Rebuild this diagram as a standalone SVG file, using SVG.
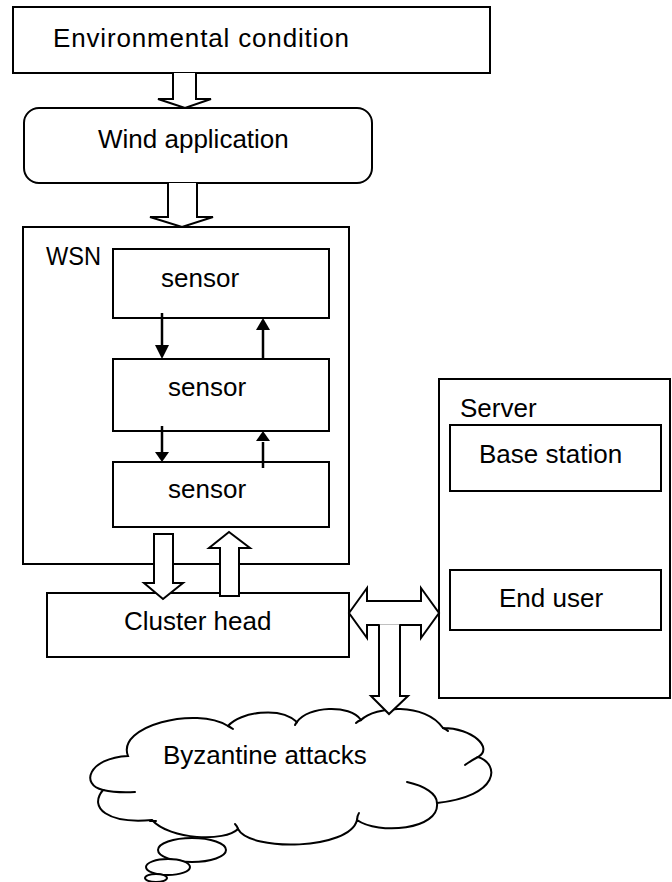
<svg xmlns="http://www.w3.org/2000/svg" width="672" height="882" viewBox="0 0 672 882">
  <style>
    .box { fill: #fff; stroke: #000; stroke-width: 2; }
    .block { fill: #fff; stroke: #000; stroke-width: 2; stroke-linejoin: miter; }
    .line { fill: none; stroke: #000; stroke-width: 2.5; }
    .head { fill: #000; stroke: none; }
    .outline { fill: none; stroke: #000; stroke-width: 2; stroke-linecap: round; }
    text { font-family: "Liberation Sans", Arial, sans-serif; font-size: 26px; fill: #000; }
  </style>
  <rect width="672" height="882" fill="#fff"/>

  <g id="env">
    <rect class="box" x="13" y="7" width="477" height="66"/>
    <text x="53" y="47" textLength="296" lengthAdjust="spacing">Environmental condition</text>
  </g>

  <g id="wind">
    <rect class="box" x="24" y="108" width="348" height="75" rx="15" ry="15"/>
    <text x="98" y="148">Wind application</text>
  </g>

  <g id="wsn">
    <rect class="box" x="23" y="227" width="326" height="337"/>
    <text x="46" y="265" textLength="55" lengthAdjust="spacingAndGlyphs">WSN</text>
  </g>

  <g id="sensor1">
    <rect class="box" x="113" y="249" width="216" height="69"/>
    <text x="161" y="287">sensor</text>
  </g>

  <g id="sensor2">
    <rect class="box" x="113" y="359" width="216" height="72"/>
    <text x="168" y="396">sensor</text>
  </g>

  <g id="sensor3">
    <rect class="box" x="113" y="462" width="216" height="65"/>
    <text x="168" y="498">sensor</text>
  </g>

  <g id="cluster">
    <rect class="box" x="47" y="593" width="302" height="64"/>
    <text x="124" y="630">Cluster head</text>
  </g>

  <g id="server">
    <rect class="box" x="439" y="379" width="231" height="319"/>
    <text x="460" y="417">Server</text>
  </g>

  <g id="base">
    <rect class="box" x="450" y="425" width="211" height="66"/>
    <text x="479" y="463">Base station</text>
  </g>

  <g id="enduser">
    <rect class="box" x="450" y="570" width="211" height="60"/>
    <text x="499" y="607">End user</text>
  </g>

  <g id="byzantine">
    <!-- cloud outline, lobes clockwise from the left -->
    <path class="block" d="M128,756 C116,726 196,706 228,726 C240,712 280,706 297,722 C308,706 350,704 361,720 C375,706 425,702 443,728 C472,728 494,748 478,757 C500,764 500,796 437,803 C440,830 378,835 357,820 C350,850 250,852 238,829 C225,842 170,840 152,820 C108,824 88,808 103,790 C80,785 88,758 128,756 Z"/>
    <!-- inner lobe tails -->
    <path class="outline" d="M103,790 Q116,793 135,792"/>
    <path class="outline" d="M150,821 L156,821"/>
    <path class="outline" d="M238,829 Q237,826 235,824"/>
    <path class="outline" d="M357,820 Q357,816 359,813"/>
    <path class="outline" d="M437,803 C437,794 425,786 407,782"/>
    <path class="outline" d="M478,757 Q472,760 465,765"/>
    <path class="outline" d="M443,728 Q446,729 448,731"/>
    <path class="outline" d="M361,720 Q358,721 356,723"/>
    <path class="outline" d="M297,722 Q296,723 295,725"/>
    <path class="outline" d="M228,726 Q230,727 233,729"/>
    <ellipse class="block" cx="192" cy="850" rx="34" ry="12"/>
    <ellipse class="block" cx="168" cy="867" rx="22" ry="8"/>
    <ellipse class="block" cx="156" cy="878" rx="11" ry="4"/>
    <text x="163" y="764">Byzantine attacks</text>
  </g>

  <g id="connectors">
    <!-- environmental condition to wind application -->
    <path class="block" d="M173,73 V99 H158 L185,108 L211,99 H196 V73"/>
    <!-- wind application to WSN -->
    <path class="block" d="M168,183 V217 H150 L182,227 L213,217 H197 V183"/>

    <!-- sensor links -->
    <line class="line" x1="162" y1="313" x2="162" y2="346"/>
    <polygon class="head" points="155,345 169,345 162,359"/>
    <line class="line" x1="263" y1="359" x2="263" y2="330"/>
    <polygon class="head" points="256,330 270,330 263,318"/>
    <line class="line" x1="162" y1="426" x2="162" y2="453"/>
    <polygon class="head" points="155,452 169,452 162,462"/>
    <line class="line" x1="263" y1="468" x2="263" y2="442"/>
    <polygon class="head" points="256,441 270,441 263,431"/>

    <!-- WSN to cluster head and back -->
    <path class="block" d="M154,534 H173 V583 H183 L163,599 L144,583 H154 Z"/>
    <path class="block" d="M220,596 V548 H209 L229,532 L250,548 H239 V596 Z"/>

    <!-- cluster head to server, both ways -->
    <path class="block" d="M349,613 L367,588 V601 H421 V588 L439,613 L421,638 V625 H367 V638 Z"/>
    <!-- branch down to the cloud -->
    <path class="block" d="M379,624.2 V696 H371 L389,714 L408,696 H400 V624.2"/>
  </g>
</svg>
